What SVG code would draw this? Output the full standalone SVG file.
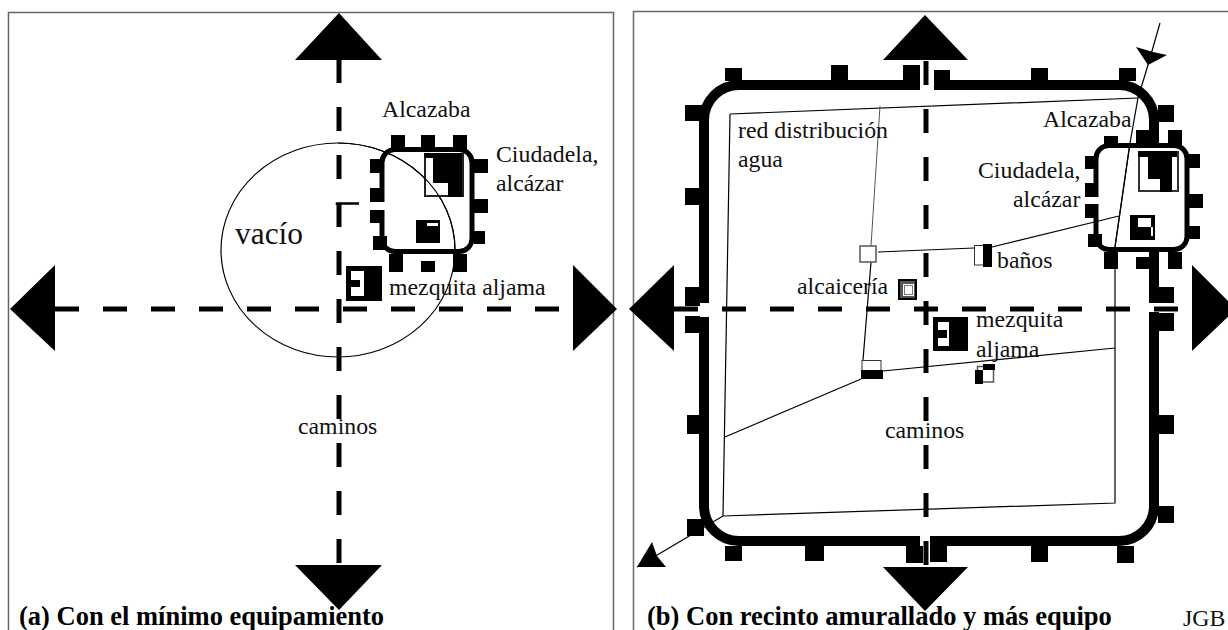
<svg xmlns="http://www.w3.org/2000/svg" width="1228" height="630" viewBox="0 0 1228 630">
<style>
text{font-family:"Liberation Serif","Times New Roman",serif;font-size:23.800px;fill:#111}
.t{font-weight:bold;font-size:26.500px;fill:#000}
.k{fill:#000}
.w{fill:#fff}
.dash{fill:none;stroke:#000;stroke-width:5;stroke-dasharray:24 24}
.wall{fill:none;stroke:#000;stroke-width:10}
.cit{fill:none;stroke:#000;stroke-width:5}
.thin{fill:none;stroke:#000;stroke-width:1.2}
.frame{fill:none;stroke:#666;stroke-width:1.5}
.box{fill:#fff;stroke:#555;stroke-width:1.5}
</style>
<rect width="1228" height="630" fill="#fff"/>
<g id="panel-a">
<path class="frame" d="M8.500 640V12.500H613.500V640"/>
<g id="vacio"><ellipse class="thin" cx="338" cy="250" rx="117" ry="107"/><text x="235" y="244" style="font-size:31.400px">vacío</text></g>
<g id="connectors-a">
<path class="dash" d="M339 59V565"/>
<path class="dash" d="M55 309H583"/>
<path d="M337 205V203.500H359" fill="none" stroke="#000" stroke-width="2.500"/>
<path class="k" d="M339 13L382 60H295Z"/>
<path class="k" d="M339 610L382 565H295Z"/>
<path class="k" d="M10 309L55 265V351Z"/>
<path class="k" d="M617 309L573 265V351Z"/>
</g>
<g id="alcazaba-a">
<rect x="382" y="149.500" width="90" height="102" rx="13" class="cit"/>
<path class="k" d="M391 135h14v14h-14zM421 135h14v14h-14zM453 135h14v14h-14zM370 159h14v14h-14zM370 188h14v14h-14zM370 210h14v13h-14zM373 236h14v14h-14zM474 159h14v14h-14zM474 199h14v14h-14zM474 231h11v13h-11zM389 254h14v18h-14zM421 261h14v11h-14zM453 254h14v18h-14z"/>
<rect class="w" x="378" y="202" width="8" height="8"/>
<text x="382" y="117">Alcazaba</text>
</g>
<g id="ciudadela-a">
<rect x="425" y="154" width="38" height="42" fill="#fff" stroke="#222" stroke-width="2"/>
<path class="k" d="M424 153h38v44h-14v-14h-15v-25h-9z"/>
<path d="M338 143A117 107 0 0 1 455 250" class="thin"/>
<text x="496" y="162">Ciudadela,</text><text x="496" y="191">alcázar</text>
</g>
<g id="edificio-a"><rect class="k" x="416" y="220" width="24" height="23"/><rect class="w" x="427" y="223" width="11" height="3"/></g>
<g id="mezquita-a">
<rect class="k" x="346" y="266" width="36" height="35"/>
<path class="w" d="M351 271h13v25h-13v-9h9v-7h-9z"/>
<text x="389" y="295">mezquita aljama</text>
</g>
<text x="298" y="434">caminos</text>
<text class="t" x="19" y="625">(a) Con el mínimo equipamiento</text>
</g>
<g id="panel-b">
<path class="frame" d="M633.500 640V11.500H1228"/>
<g id="connectors-b">
<path class="thin" d="M730 114L1138 98M730 114L723 516L1115 503V247"/>
<path class="thin" d="M1160 23L1148 65L1138 98L1130 143L1115 247"/>
<path class="thin" d="M723 516L637 567"/>
<path d="M880 106L871 246" fill="none" stroke="#555" stroke-width="1"/>
<path class="thin" d="M871 262L863 360M861 379L725 437M883 371L1115 348M878 252L974 248M992 247L1119 216"/>
<path class="k" d="M1136 47L1153 52L1167 55L1148 65Z"/>
<path class="k" d="M637 567L652 542L657 556L666 567Z"/>
</g>
<g id="muralla">
<path class="wall" d="M920 85H739A35 35 0 0 0 704 120V303M704 317V506A35 35 0 0 0 739 541H920M930 541H1119A35 35 0 0 0 1154 506V312M1154 303V252M1154 135V120A35 35 0 0 0 1119 85H934"/>
<path class="k" d="M725 68h17v13h-17zM831 65h17v16h-17zM903 65h17v16h-17zM934 70h16v11h-16zM1031 68h17v13h-17zM1119 68h17v13h-17zM685 105h18v16h-18zM685 188h15v17h-15zM685 287h15v19h-15zM685 316h15v17h-15zM687 415h13v19h-13zM687 519h17v17h-17zM1158 105h16v17h-16zM1149 287h25v16h-25zM1154 313h20v18h-20zM1158 415h16v19h-16zM1158 506h16v17h-16zM725 546h17v15h-17zM805 546h19v15h-19zM906 546h17v17h-17zM930 546h17v16h-17zM1031 546h17v16h-17zM1117 546h17v17h-17z"/>
</g>
<g id="caminos-b">
<path class="dash" d="M926 61V565"/>
<path class="dash" d="M674 309H1178"/>
<path class="k" d="M925 15L968 60H883Z"/>
<path class="k" d="M925 611L968 567H883Z"/>
<path class="k" d="M629 309L674 265V351Z"/>
<path class="k" d="M1236 309L1192 265V351Z"/>
</g>
<g id="alcazaba-b">
<rect x="1096" y="145.500" width="91" height="104" rx="13" class="cit"/>
<path class="k" d="M1104 136h14v9h-14zM1136 130h23v15h-23zM1168 130h14v15h-14zM1085 156h13v13h-13zM1085 183h13v14h-13zM1085 204h13v14h-13zM1088 234h14v13h-14zM1189 154h11v14h-11zM1189 194h14v14h-14zM1189 226h11v13h-11zM1104 252h14v17h-14zM1136 257h14v12h-14zM1168 252h14v17h-14z"/>
<rect class="w" x="1092" y="197" width="8" height="7"/>
<path class="thin" d="M1130 143L1115 247"/>
<text x="1043" y="127">Alcazaba</text>
</g>
<g id="ciudadela-b">
<rect x="1139" y="152" width="39" height="39" fill="#fff" stroke="#333" stroke-width="2"/>
<path class="k" d="M1138 151h39v6h-5v35h-12v-13h-12v-22h-10z"/>
<text x="978" y="178">Ciudadela,</text><text x="1013" y="207">alcázar</text>
</g>
<g id="edificio-b"><rect class="k" x="1130" y="215" width="25" height="25"/><path class="w" d="M1138 218h13v9h-13zM1151 227h2v9h-2z"/></g>
<g id="red-label"><text x="738" y="138">red distribución</text><text x="738" y="167">agua</text></g>
<g id="deposito-1"><rect class="box" x="860" y="246" width="16" height="16"/></g>
<g id="deposito-2"><rect x="862" y="360.500" width="19" height="10" fill="#fff" stroke="#333"/><rect class="k" x="861" y="370" width="22" height="9"/></g>
<g id="banos"><rect x="974.500" y="245.500" width="9" height="19.500" fill="#fff" stroke="#333"/><rect class="k" x="983" y="244" width="9" height="23"/><text x="997" y="268">baños</text></g>
<g id="alcaiceria"><rect x="898" y="279" width="19" height="21" fill="#000"/><rect x="900" y="281" width="15" height="17" fill="#555"/><rect x="903" y="284" width="11" height="12" fill="#fff"/><rect x="904.500" y="285.500" width="8" height="9" fill="#fff" stroke="#777"/><text x="797" y="294">alcaicería</text></g>
<g id="mezquita-b"><rect class="k" x="933" y="317" width="35" height="34"/><path class="w" d="M938 322h11v24h-11v-8h9v-8h-9z"/><text x="976" y="327">mezquita</text><text x="976" y="357">aljama</text></g>
<g id="edificio-c"><rect class="box" x="977.500" y="366.500" width="16" height="15.500"/><path class="k" d="M983 364h12v6h-12zM975 370h8v14h-8z"/></g>
<text x="885" y="438">caminos</text>
<text class="t" x="647" y="625">(b) Con recinto amurallado y más equipo</text>
<text x="1183" y="626">JGB</text>
</g>
</svg>
